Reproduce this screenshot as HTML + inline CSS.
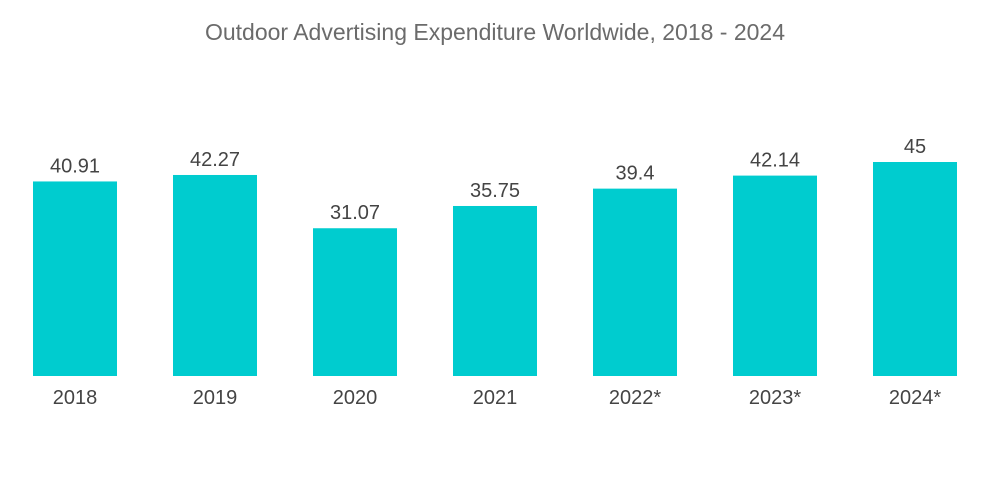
<!DOCTYPE html>
<html><head><meta charset="utf-8"><style>
html,body{margin:0;padding:0;background:#fff;}
svg{display:block;}
</style></head><body>
<svg id="chart" width="1000" height="504" viewBox="0 0 1000 504" xmlns="http://www.w3.org/2000/svg">
<text x="495" y="40" text-anchor="middle" font-family="Liberation Sans, sans-serif" font-size="23" fill="#6b6b6b">Outdoor Advertising Expenditure Worldwide, 2018 - 2024</text>
<g id="bars"></g>
</svg>
<script>
const categories = ["2018","2019","2020","2021","2022*","2023*","2024*"];
const values = [40.91,42.27,31.07,35.75,39.4,42.14,45];
const valueLabels = ["40.91","42.27","31.07","35.75","39.4","42.14","45"];

const baseY = 376, pxPerUnit = 214/45;
const firstX = 33, pitch = 140, barW = 84;
function yScale(v){ return baseY - v*pxPerUnit; }
function xScale(i){ return firstX + i*pitch; }
const ns = "http://www.w3.org/2000/svg";
const g = document.getElementById("bars");
categories.forEach((c,i)=>{
  const x = xScale(i), y = yScale(values[i]);
  const r = document.createElementNS(ns,"rect");
  
  
  r.setAttribute("x",x); r.setAttribute("y",y);
  r.setAttribute("width",barW); r.setAttribute("height",baseY-y);
  r.setAttribute("fill","#00cccf");
  g.appendChild(r);
  const t = document.createElementNS(ns,"text");
  
  
  t.setAttribute("x",x+barW/2); t.setAttribute("y",y-9);
  t.setAttribute("text-anchor","middle");
  t.setAttribute("font-family","Liberation Sans, sans-serif");
  t.setAttribute("font-size","20"); t.setAttribute("fill","#444");
  t.textContent = valueLabels[i];
  g.appendChild(t);
  const l = document.createElementNS(ns,"text");
  
  
  l.setAttribute("x",x+barW/2); l.setAttribute("y",404);
  l.setAttribute("text-anchor","middle");
  l.setAttribute("font-family","Liberation Sans, sans-serif");
  l.setAttribute("font-size","20"); l.setAttribute("fill","#444");
  l.textContent = c;
  g.appendChild(l);
});
</script>
</body></html>
